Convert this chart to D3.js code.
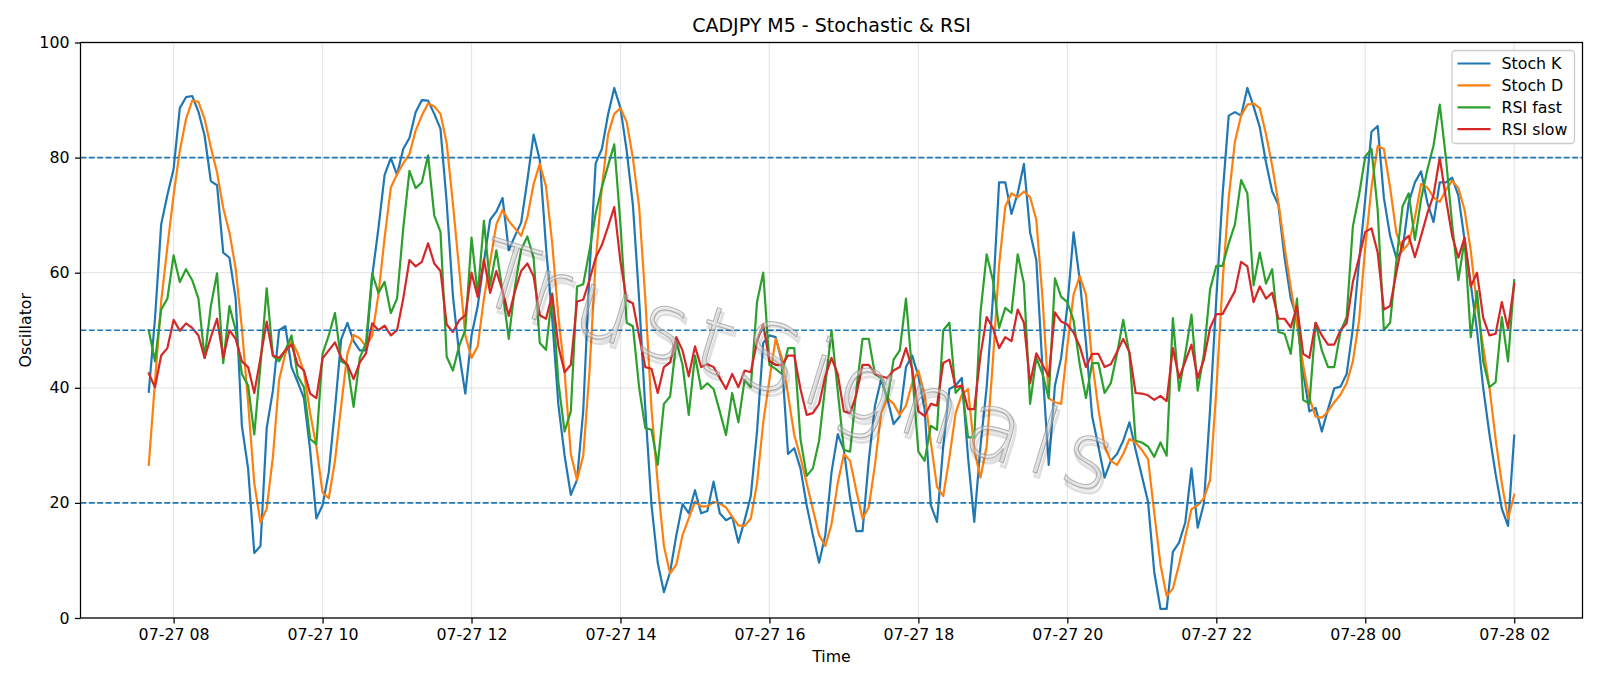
<!DOCTYPE html>
<html>
<head>
<meta charset="utf-8">
<script src="https://cdn.jsdelivr.net/npm/d3@7"></script>
<style>
  body { margin: 0; background: #fff; }
  svg { display: block; }
  text { font-family: "DejaVu Sans", sans-serif; }
</style>
</head>
<body>
<div id="chart"></div>
<script>
// first bar of the M5 series and bar length
const startTime = new Date(2025, 6, 27, 7, 40);
const barMinutes = 5;

const stochK = [
  39.3, 52, 68.4, 73.5, 78, 88.6, 90.5, 90.7, 88, 83.8,
  75.9, 75.2, 63.5, 62.6, 55.5, 33.4, 26, 11.3, 12.5, 33,
  39.5, 50, 50.7, 43.6, 41, 38.2, 29.2, 17.3, 19.6, 25.3,
  36.3, 48.4, 51.3, 48.1, 46.5, 46.5, 59.4, 67.7, 77, 79.9,
  77, 81.5, 83.4, 87.9, 90, 89.9, 87.6, 85, 72.2, 56,
  46, 39, 49.1, 54.2, 61.9, 69.2, 70.6, 73, 63.9, 66.4,
  68.7, 76.1, 84, 79.6, 64.5, 52, 37, 28.2, 21.4, 24,
  36, 60, 79, 81.5, 87.5, 92.1, 88.6, 81.2, 71.8, 55.5,
  36.3, 19.6, 9.6, 4.5, 8, 14.4, 19.8, 18.2, 22.2, 18.2,
  18.6, 23.7, 18.2, 17, 17.6, 13.1, 17, 21.2, 32.4, 47.8,
  49.1, 48.8, 44.6, 28.5, 29.5, 26, 19.6, 14.4, 9.6, 14.4,
  25.3, 31.9, 29.2, 20.8, 15.1, 15.1, 27.3, 36.9, 41.5, 38.2,
  33.7, 35, 43.6, 45.6, 42, 36.3, 19.6, 16.7, 29.8, 39.8,
  40.4, 41.7, 27.9, 16.7, 29.8, 40.1, 55.5, 75.7, 75.7, 70.2,
  73.8, 78.9, 67, 62.2, 43.3, 26.6, 40.4, 45.2, 54.2, 67,
  58.7, 47.8, 35, 29.8, 24.4, 27.3, 28.5, 30.8, 34, 29.2,
  24.7, 20.2, 8, 1.6, 1.6, 11.5, 13.1, 16.6, 26, 15.7,
  19.9, 36.3, 55.5, 73.4, 87.3, 87.9, 87.3, 92.1, 88.9, 85.3,
  79.2, 74.1, 71.8, 62.6, 55.5, 52, 42.7, 35.9, 36.5, 32.4,
  36.3, 39.9, 40.2, 42.4, 50.3, 61.9, 72.8, 84.5, 85.5, 73,
  66.4, 62.6, 63.9, 72.2, 75.7, 77.6, 72.2, 68.8, 75.7, 75.7,
  76.5, 73.4, 65.7, 58, 50, 40, 32, 25, 19, 16,
  31.7
];

const stochD = [
  26.6, 41, 55, 64.5, 73.5, 81.2, 86.7, 89.9, 89.7, 86.7,
  81.8, 77.4, 71.2, 67, 60.7, 50.4, 37.5, 23.4, 16.6, 19,
  28, 41.4, 45.9, 48.2, 46, 42.7, 35.6, 29.8, 21.8, 20.8,
  27.3, 36.9, 45.9, 49.2, 48.6, 47.2, 49.1, 56.2, 66.1, 74.8,
  77.1, 79, 80.6, 84.7, 87.3, 89.4, 88.9, 87.6, 82.5, 72,
  60.7, 49.1, 45.2, 47.2, 55.5, 61.9, 68.4, 70.9, 69, 67.7,
  66.4, 69.6, 75.4, 78.9, 75, 65.1, 52.3, 42.7, 28.5, 24,
  28.2, 42.7, 61.9, 74.8, 84, 87.6, 88.6, 86.2, 79.9, 71.5,
  55.5, 36.3, 23.4, 12.5, 7.7, 9.3, 14.4, 17.3, 20.2, 19.4,
  19.4, 20.2, 19.9, 19.2, 17.6, 16.1, 16, 17.3, 23.4, 34,
  41.4, 48.5, 45.2, 38.8, 31.8, 27.9, 23.4, 18.9, 14.4, 12.5,
  16.3, 23.4, 28.5, 27.3, 22.1, 17.3, 19.2, 26.6, 35.6, 38.2,
  37.2, 35.3, 36.9, 40.8, 43, 38.8, 30.5, 22.8, 21.2, 27.9,
  35.6, 38.8, 39.8, 29.2, 24.4, 29.8, 44.6, 61.3, 71.5, 73.8,
  73.1, 74.1, 73.1, 69.2, 55.5, 38.2, 37.5, 37.2, 47.2, 56.2,
  59.4, 56.2, 44.6, 36.3, 29.8, 27.3, 26.6, 28.5, 31.1, 30.5,
  29.2, 27.6, 18.3, 9.3, 3.8, 5.1, 9.3, 14.1, 18.9, 19.6,
  20.8, 24, 39.5, 58.1, 73, 82.8, 87.3, 89.2, 89.4, 88.6,
  84.1, 78.6, 72.2, 64.5, 57.4, 51, 43.9, 38.2, 35, 34.8,
  35.9, 37.5, 38.8, 40.8, 44.6, 51.7, 64.5, 74.8, 82, 81.5,
  74.8, 67, 63.8, 65.1, 69.6, 75.4, 74.8, 73.1, 72.3, 74.4,
  76, 74.7, 70.9, 63.8, 54.2, 47.1, 40.1, 31.1, 23.4, 17.3,
  21.4
];

const rsiFast = [
  50, 44.6, 53.6, 55.5, 63, 58.4, 60.6, 58.7, 55.5, 45.2,
  54.2, 59.9, 44.3, 54.2, 50, 42.4, 40.4, 31.9, 44, 57.3,
  45.6, 44.6, 46.5, 49.1, 42, 40.1, 31.1, 30.2, 45.9, 49.1,
  53, 44.6, 44, 36.7, 45.2, 47.8, 59.9, 56.5, 58.4, 53,
  55.5, 67.7, 77.7, 74.7, 75.7, 80.4, 69.9, 67.1, 45.4, 43,
  47.2, 50.1, 66.1, 56.2, 69, 57.8, 63.9, 56.8, 48.5, 57.6,
  64, 66.3, 62.6, 47.8, 46.6, 56.4, 40.9, 32.4, 35.9, 57.6,
  58, 63.8, 70.3, 74.8, 78.6, 82.3, 68.3, 51.3, 50.7, 40.1,
  33, 32.7, 26.6, 37.2, 38.5, 48.1, 44, 35.3, 45.6, 39.8,
  40.8, 39.8, 35.9, 31.8, 39.1, 34, 41.4, 40.1, 54.9, 60,
  44, 43.3, 42.4, 46.9, 46.9, 31.1, 24.7, 26, 30.8, 40.4,
  50, 39.5, 29.2, 28.9, 39.5, 48.5, 48.5, 42.4, 41.7, 37.9,
  44.9, 46.5, 55.5, 42.7, 28.9, 27.3, 33.4, 32.7, 50, 51.3,
  39.1, 40.4, 31.4, 31.4, 53, 63.2, 58.7, 50.4, 53.9, 53,
  63.2, 58.1, 37.2, 45.2, 42.4, 38.2, 59, 55.8, 54.9, 51.7,
  44, 38.2, 44.3, 44.3, 39.1, 40.8, 45.9, 51.8, 45.9, 30.8,
  30.5, 29.8, 28, 30.5, 28.2, 52.1, 39.5, 45.9, 52.7, 39.5,
  45.9, 57.1, 61.2, 61.2, 65.1, 68.4, 76.1, 73.8, 57.8, 63.5,
  58.1, 60.6, 49.7, 49.4, 45.9, 55.5, 37.9, 37.2, 51.3, 46.5,
  43.6, 43.6, 49.7, 52.3, 68, 73.5, 80.2, 81.5, 70.9, 50,
  51.3, 61.9, 71.5, 73.8, 65.7, 72.8, 77.9, 82.1, 89.2, 79.9,
  68.3, 58.7, 65.7, 48.8, 56.8, 44.6, 40.1, 41, 52.3, 44.6,
  58.7
];

const rsiSlow = [
  42.5, 40.1, 45.6, 46.9, 51.8, 49.9, 51.2, 50.4, 49.1, 45.2,
  48.8, 52, 45.2, 50, 48.5, 44.6, 43.6, 39.1, 45.2, 51.5,
  45.6, 45.2, 46.5, 47.5, 44, 43, 39, 38.2, 45.1, 46.5,
  47.9, 45.2, 44, 41.5, 44.4, 46, 51.2, 50, 50.8, 49.1,
  50, 55.5, 62.2, 61.1, 61.9, 65.1, 61.6, 60.3, 51, 49.7,
  51.7, 52.6, 60, 55.8, 62.3, 56.5, 60.3, 56.8, 52.5, 56.8,
  60.3, 61.6, 59.4, 52.6, 52, 56.2, 47.2, 42.7, 44, 55,
  55.3, 58.7, 62.6, 64.8, 68, 71.4, 61.9, 55.2, 54.7, 49.1,
  43.6, 43.3, 39.1, 43.6, 44.4, 48.8, 46.5, 42, 47.2, 43.6,
  44.1, 43.6, 41.7, 39.8, 42.4, 40.1, 43, 42.7, 48.1, 51,
  44.6, 44, 44, 45.6, 45.6, 39.8, 35.3, 35.6, 37.2, 42,
  45.2, 42.4, 35.9, 35.6, 38.8, 44, 44, 42.4, 42, 41.7,
  43, 43.6, 46.9, 43.3, 35.9, 35.1, 37.2, 36.9, 44.3, 44.9,
  40.1, 40.4, 36.3, 36.3, 45.6, 52.3, 50.4, 46.9, 48.8, 48.1,
  53.6, 51.3, 40.8, 46, 44, 42, 53.1, 51.5, 51, 49.6,
  47.2, 43.6, 45.9, 45.9, 43.6, 44.1, 46.2, 48.5, 46.2, 39.1,
  39, 38.7, 37.9, 38.6, 37.7, 46.9, 41.7, 44.6, 47.5, 41.7,
  44.9, 50.4, 52.8, 52.8, 54.8, 56.8, 61.9, 61.1, 54.9, 57.6,
  55.5, 56.5, 52, 52, 50.5, 54.2, 45.9, 45.2, 51.3, 49.1,
  47.5, 47.5, 50, 51.2, 58.4, 62.6, 67.1, 67.7, 63.5, 53.6,
  54.2, 60, 65.4, 66.4, 62.7, 66.4, 70.3, 73.5, 80, 72.8,
  66.4, 62.6, 66.1, 57.6, 60, 52.2, 49.1, 49.4, 54.9, 50.3,
  58.1
];

const seriesNames = ["Stoch K", "Stoch D", "RSI fast", "RSI slow"];
const seriesColors = ["#1f77b4", "#ff7f0e", "#2ca02c", "#d62728"];
const levels = [20, 50, 80];
const yTicks = [0, 20, 40, 60, 80, 100];

/************ PAGE SET-UP ***************/
const width = 1600, height = 686;
const plot = { left: 80.5, right: 1582.5, top: 42.5, bottom: 618 };
const fontSize = 15.8;

const svg = d3.select("#chart").append("svg")
    .attr("width", width)
    .attr("height", height);

const times = stochK.map((d, i) => d3.timeMinute.offset(startTime, i * barMinutes));
const pad = (times[times.length - 1] - times[0]) * 0.05;

const x = d3.scaleTime()
    .domain([new Date(+times[0] - pad), new Date(+times[times.length - 1] + pad)])
    .range([plot.left, plot.right]);

const y = d3.scaleLinear()
    .domain([0, 100])
    .range([plot.bottom, plot.top]);

const xTicks = x.ticks(d3.timeHour.every(2));

/************ GRID ***************/
const grid = svg.append("g")
    .attr("stroke", "#b0b0b0")
    .attr("stroke-opacity", 0.3)
    .attr("stroke-width", 1.26);

grid.selectAll(".gx").data(xTicks).join("line")
    .attr("x1", d => x(d)).attr("x2", d => x(d))
    .attr("y1", plot.top).attr("y2", plot.bottom);

grid.selectAll(".gy").data(yTicks).join("line")
    .attr("x1", plot.left).attr("x2", plot.right)
    .attr("y1", d => y(d)).attr("y2", d => y(d));

/************ SERIES ***************/
const allSeries = [stochK, stochD, rsiFast, rsiSlow];
const line = d3.line()
    .x((d, i) => x(times[i]))
    .y(d => y(d));

svg.append("g").selectAll("path").data(allSeries).join("path")
    .attr("d", d => line(d))
    .attr("fill", "none")
    .attr("stroke", (d, i) => seriesColors[i])
    .attr("stroke-width", 2.2)
    .attr("stroke-linejoin", "round")
    .attr("stroke-linecap", "square");

// overbought / middle / oversold levels
svg.append("g").selectAll("line").data(levels).join("line")
    .attr("x1", plot.left).attr("x2", plot.right)
    .attr("y1", d => y(d)).attr("y2", d => y(d))
    .attr("stroke", "#1f77b4")
    .attr("stroke-width", 1.58)
    .attr("stroke-dasharray", "5.85 2.53");

/************ WATERMARK ***************/
const wm = svg.append("g")
    .attr("transform", "translate(792,398) rotate(17)")
    .attr("pointer-events", "none");

wm.append("text")
    .attr("x", 3).attr("y", 4)
    .attr("text-anchor", "middle")
    .attr("font-size", 92)
    .attr("font-weight", 200)
    .attr("letter-spacing", 10)
    .attr("fill", "none")
    .attr("stroke", "#000")
    .attr("stroke-opacity", 0.12)
    .attr("stroke-width", 3)
    .text("TrustSignals");

wm.append("text")
    .attr("text-anchor", "middle")
    .attr("font-size", 92)
    .attr("font-weight", 200)
    .attr("letter-spacing", 10)
    .attr("fill", "#d8d8d8")
    .attr("fill-opacity", 0.45)
    .attr("stroke", "#8a8a8a")
    .attr("stroke-opacity", 0.6)
    .attr("stroke-width", 1.1)
    .text("TrustSignals");

/************ AXES ***************/
const xAxis = svg.append("g")
    .attr("transform", `translate(0,${plot.bottom})`)
    .call(d3.axisBottom(x)
        .tickValues(xTicks)
        .tickFormat(d3.timeFormat("%m-%d %H"))
        .tickSize(5.5)
        .tickPadding(5.5)
        .tickSizeOuter(0));

const yAxis = svg.append("g")
    .attr("transform", `translate(${plot.left},0)`)
    .call(d3.axisLeft(y)
        .tickValues(yTicks)
        .tickFormat(d3.format("d"))
        .tickSize(5.5)
        .tickPadding(5.5)
        .tickSizeOuter(0));

[xAxis, yAxis].forEach(a => {
    a.select(".domain").remove();
    a.selectAll(".tick line").attr("stroke", "#000").attr("stroke-width", 1.26);
    a.selectAll(".tick text")
        .attr("fill", "#000")
        .style("font-family", "DejaVu Sans")
        .style("font-size", fontSize + "px");
});

// frame
svg.append("rect")
    .attr("x", plot.left).attr("y", plot.top)
    .attr("width", plot.right - plot.left)
    .attr("height", plot.bottom - plot.top)
    .attr("fill", "none")
    .attr("stroke", "#000")
    .attr("stroke-width", 1.26);

/************ LABELS ***************/
svg.append("text")
    .attr("x", (plot.left + plot.right) / 2)
    .attr("y", 32)
    .attr("text-anchor", "middle")
    .style("font-size", "19px")
    .text("CADJPY M5 - Stochastic & RSI");

svg.append("text")
    .attr("x", (plot.left + plot.right) / 2)
    .attr("y", 661.5)
    .attr("text-anchor", "middle")
    .style("font-size", fontSize + "px")
    .text("Time");

svg.append("text")
    .attr("transform", `translate(31,${(plot.top + plot.bottom) / 2}) rotate(-90)`)
    .attr("text-anchor", "middle")
    .style("font-size", fontSize + "px")
    .text("Oscillator");

/************ LEGEND ***************/
const legend = svg.append("g");
legend.append("rect")
    .attr("x", 1452).attr("y", 50.5)
    .attr("width", 122.5).attr("height", 93)
    .attr("rx", 3.5)
    .attr("fill", "#fff")
    .attr("fill-opacity", 0.8)
    .attr("stroke", "#cccccc")
    .attr("stroke-width", 1.26);

const rows = legend.selectAll(".row").data(seriesNames).join("g")
    .attr("transform", (d, i) => `translate(0,${63.5 + i * 21.9})`);

rows.append("line")
    .attr("x1", 1457.5).attr("x2", 1490.5)
    .attr("stroke", (d, i) => seriesColors[i])
    .attr("stroke-width", 2.2);

rows.append("text")
    .attr("x", 1501.5)
    .attr("y", 5.6)
    .style("font-size", fontSize + "px")
    .text(d => d);
</script>
</body>
</html>
